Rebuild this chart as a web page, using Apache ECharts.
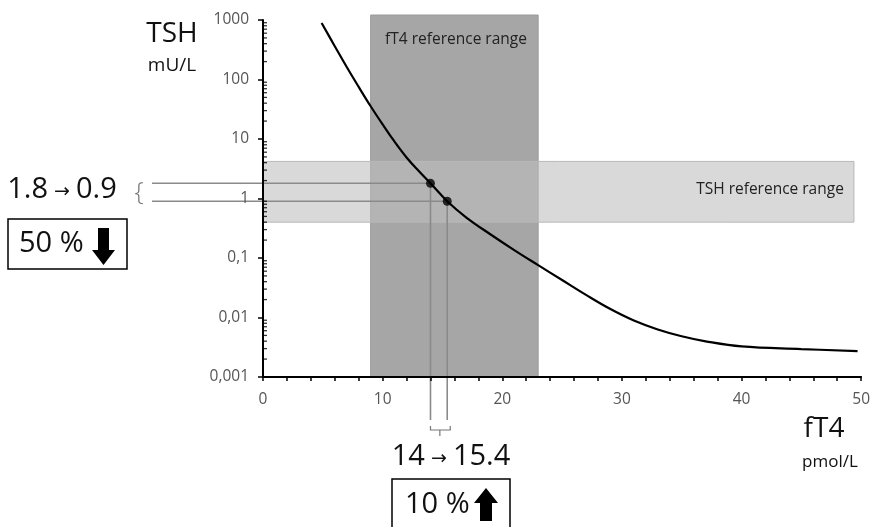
<!DOCTYPE html>
<html>
<head>
<meta charset="utf-8">
<script src="https://cdn.jsdelivr.net/npm/echarts@6/dist/echarts.min.js"></script>
<style>
html, body { margin: 0; padding: 0; background: #fff; }
#main { width: 873px; height: 527px; }
</style>
</head>
<body>
<div id="main"></div>
<script>
// fT4 (pmol/L) -> TSH (mU/L) curve
var curveFt4 = [4.9, 6, 7, 8, 9, 10, 11, 12, 13, 14, 15.4, 17, 19, 21, 23, 25, 27, 29, 31, 33, 35, 37, 40, 45, 49.7];
var curveTsh = [891, 363, 162, 75, 35.5, 17.6, 9.0, 4.9, 2.92, 1.8, 0.9, 0.479, 0.251, 0.136, 0.0759, 0.0427, 0.024, 0.014, 0.0089, 0.0063, 0.00484, 0.00398, 0.00327, 0.00295, 0.00272];

// the two marked points
var pointFt4 = [14, 15.4];
var pointTsh = [1.8, 0.9];

// reference ranges
var ft4Range = [9, 23];
var tshRange = [0.4, 4.2];
var tshRangeX = [0, 49.4];

// axes
var yTickLabels = ['0,001', '0,01', '0,1', '1', '10', '100', '1000'];
var yDecades = [0.001, 0.01, 0.1, 1, 10, 100];
var yMinorMantissa = [2, 3, 4, 5, 6, 7, 8, 9];

var FONT = 'Open Sans';

var minorTicks = [];
yDecades.forEach(function (d) {
      yMinorMantissa.forEach(function (m) {
            minorTicks.push([0, m * d]);
      });
});

var curveData = curveFt4.map(function (x, i) { return [x, curveTsh[i]]; });
var pointData = pointFt4.map(function (x, i) { return [x, pointTsh[i]]; });

var chart = echarts.init(document.getElementById('main'));

function rectItem(fill, stroke, extraTop) {
      return function (params, api) {
            var p0 = api.coord([api.value(0), api.value(3)]);
            var p1 = api.coord([api.value(1), api.value(2)]);
            return {
                  type: 'rect',
                  shape: { x: p0[0], y: p0[1] - extraTop, width: p1[0] - p0[0], height: p1[1] - p0[1] + extraTop },
                  style: { fill: fill, stroke: stroke, lineWidth: 1 }
            };
      };
}

var bigRich = {
      n: { fontSize: 29, fontFamily: FONT, fill: '#111' },
      a: { fontSize: 19, fontFamily: 'DejaVu Sans', fill: '#111', padding: [4, 0, 0, 0] }
};

chart.setOption({
      animation: false,
      grid: { left: 263, right: 7, top: 20, bottom: 150 },
      xAxis: {
            type: 'value',
            min: 0,
            max: 50,
            interval: 2,
            z: 10,
            axisLine: { lineStyle: { color: '#000', width: 2 } },
            axisTick: { length: 4, lineStyle: { color: '#000', width: 1.5 } },
            axisLabel: {
                  color: '#555',
                  fontFamily: FONT,
                  fontSize: 15.5,
                  margin: 15,
                  formatter: function (v) { return v % 10 === 0 ? String(v) : ''; }
            },
            splitLine: { show: false }
      },
      yAxis: {
            type: 'log',
            logBase: 10,
            min: 0.001,
            max: 1000,
            interval: 1,
            z: 10,
            axisLine: { show: true, lineStyle: { color: '#000', width: 2 } },
            axisTick: { show: true, length: 5, lineStyle: { color: '#000', width: 1.5 } },
            axisLabel: {
                  color: '#555',
                  fontFamily: FONT,
                  fontSize: 15.5,
                  margin: 14,
                  formatter: function (v) {
                        return yTickLabels[Math.round(Math.log10(v)) + 3];
                  }
            },
            splitLine: { show: false }
      },
      series: [
            {
                  // fT4 reference range
                  type: 'custom',
                  silent: true,
                  z: 1,
                  encode: { x: [0, 1], y: [2, 3] },
                  renderItem: rectItem('#a6a6a6', '#9a9a9a', 5),
                  data: [[ft4Range[0], ft4Range[1], 0.001, 1000]]
            },
            {
                  // TSH reference range
                  type: 'custom',
                  silent: true,
                  z: 2,
                  encode: { x: [0, 1], y: [2, 3] },
                  renderItem: rectItem('rgba(190,190,190,0.58)', '#b8b8b8', 0),
                  data: [[tshRangeX[0], tshRangeX[1], tshRange[0], tshRange[1]]]
            },
            {
                  // guide lines from the points to the annotations
                  type: 'custom',
                  silent: true,
                  z: 3,
                  renderItem: function (params, api) {
                        var p = api.coord([api.value(0), api.value(1)]);
                        var o = api.coord([0, 0.001]);
                        var st = { stroke: '#8a8a8a', lineWidth: 1.6 };
                        return {
                              type: 'group',
                              children: [
                                    { type: 'line', shape: { x1: o[0] - 111, y1: p[1], x2: p[0], y2: p[1] }, style: st },
                                    { type: 'line', shape: { x1: p[0], y1: p[1], x2: p[0], y2: o[1] + 43 }, style: st }
                              ]
                        };
                  },
                  data: pointData
            },
            {
                  // braces grouping the two guide lines
                  type: 'custom',
                  silent: true,
                  z: 3,
                  renderItem: function (params, api) {
                        var a = api.coord([api.value(0), api.value(2)]);
                        var b = api.coord([api.value(1), api.value(3)]);
                        var o = api.coord([0, 0.001]);
                        var yb = o[1] + 53;
                        var xm = (a[0] + b[0]) / 2 + 1;
                        var st = { stroke: '#777', lineWidth: 1.2, fill: null };
                        return {
                              type: 'group',
                              children: [
                                    { type: 'polyline', shape: { points: [[a[0], yb - 4], [a[0], yb], [b[0] + 3, yb], [b[0] + 3, yb - 4]] }, style: st },
                                    { type: 'line', shape: { x1: xm, y1: yb, x2: xm, y2: yb + 6 }, style: st },
                                    {
                                          type: 'text',
                                          x: o[0] - 124,
                                          y: (a[1] + b[1]) / 2,
                                          style: { text: '{', fill: '#777', fontSize: 26, fontFamily: FONT, fontWeight: 300, align: 'center', verticalAlign: 'middle' }
                                    }
                              ]
                        };
                  },
                  data: [[pointFt4[0], pointFt4[1], pointTsh[0], pointTsh[1]]]
            },
            {
                  type: 'line',
                  z: 5,
                  smooth: 0.4,
                  showSymbol: false,
                  silent: true,
                  lineStyle: { color: '#000', width: 2.2 },
                  data: curveData
            },
            {
                  type: 'scatter',
                  z: 6,
                  symbolSize: 9,
                  silent: true,
                  itemStyle: { color: '#000' },
                  data: pointData
            },
            {
                  // log minor ticks on the TSH axis
                  type: 'scatter',
                  z: 11,
                  silent: true,
                  symbol: 'rect',
                  symbolSize: [4, 1.3],
                  symbolOffset: [2, 0],
                  itemStyle: { color: '#000' },
                  data: minorTicks
            }
      ],
      graphic: [
            { type: 'text', x: 172, y: 34, style: { text: 'TSH', fontSize: 28, fontFamily: FONT, fill: '#111', align: 'center', verticalAlign: 'middle' } },
            { type: 'text', x: 172, y: 66, style: { text: 'mU/L', fontSize: 19, fontFamily: FONT, fill: '#111', align: 'center', verticalAlign: 'middle' } },
            { type: 'text', x: 824, y: 429, style: { text: 'fT4', fontSize: 28, fontFamily: FONT, fill: '#111', align: 'center', verticalAlign: 'middle' } },
            { type: 'text', x: 830, y: 462, style: { text: 'pmol/L', fontSize: 17, fontFamily: FONT, fill: '#111', align: 'center', verticalAlign: 'middle' } },
            { type: 'text', x: 456, y: 40, z: 20, style: { text: 'fT4 reference range', fontSize: 15.5, fontFamily: FONT, fill: '#222', align: 'center', verticalAlign: 'middle' } },
            { type: 'text', x: 770, y: 190, z: 20, style: { text: 'TSH reference range', fontSize: 15.5, fontFamily: FONT, fill: '#222', align: 'center', verticalAlign: 'middle' } },
            {
                  type: 'text', x: 62, y: 190,
                  style: { text: '{n|1.8}{a| → }{n|0.9}', align: 'center', verticalAlign: 'middle', rich: bigRich }
            },
            { type: 'rect', shape: { x: 8, y: 219, width: 119, height: 50 }, style: { fill: '#fff', stroke: '#000', lineWidth: 1.5 } },
            { type: 'text', x: 19, y: 244, style: { text: '50 %', fontSize: 29, fontFamily: FONT, fill: '#111', align: 'left', verticalAlign: 'middle' } },
            { type: 'polygon', shape: { points: [[98, 228], [109, 228], [109, 250], [115, 250], [103.5, 265], [92, 250], [98, 250]] }, style: { fill: '#000' } },
            {
                  type: 'text', x: 451, y: 457,
                  style: { text: '{n|14}{a| → }{n|15.4}', align: 'center', verticalAlign: 'middle', rich: bigRich }
            },
            { type: 'rect', shape: { x: 392, y: 479, width: 118, height: 60 }, style: { fill: '#fff', stroke: '#000', lineWidth: 1.5 } },
            { type: 'text', x: 405, y: 505, style: { text: '10 %', fontSize: 29, fontFamily: FONT, fill: '#111', align: 'left', verticalAlign: 'middle' } },
            { type: 'polygon', shape: { points: [[486, 488], [498, 503], [492, 503], [492, 521], [480, 521], [480, 503], [474, 503]] }, style: { fill: '#000' } }
      ]
});
</script>
</body>
</html>
